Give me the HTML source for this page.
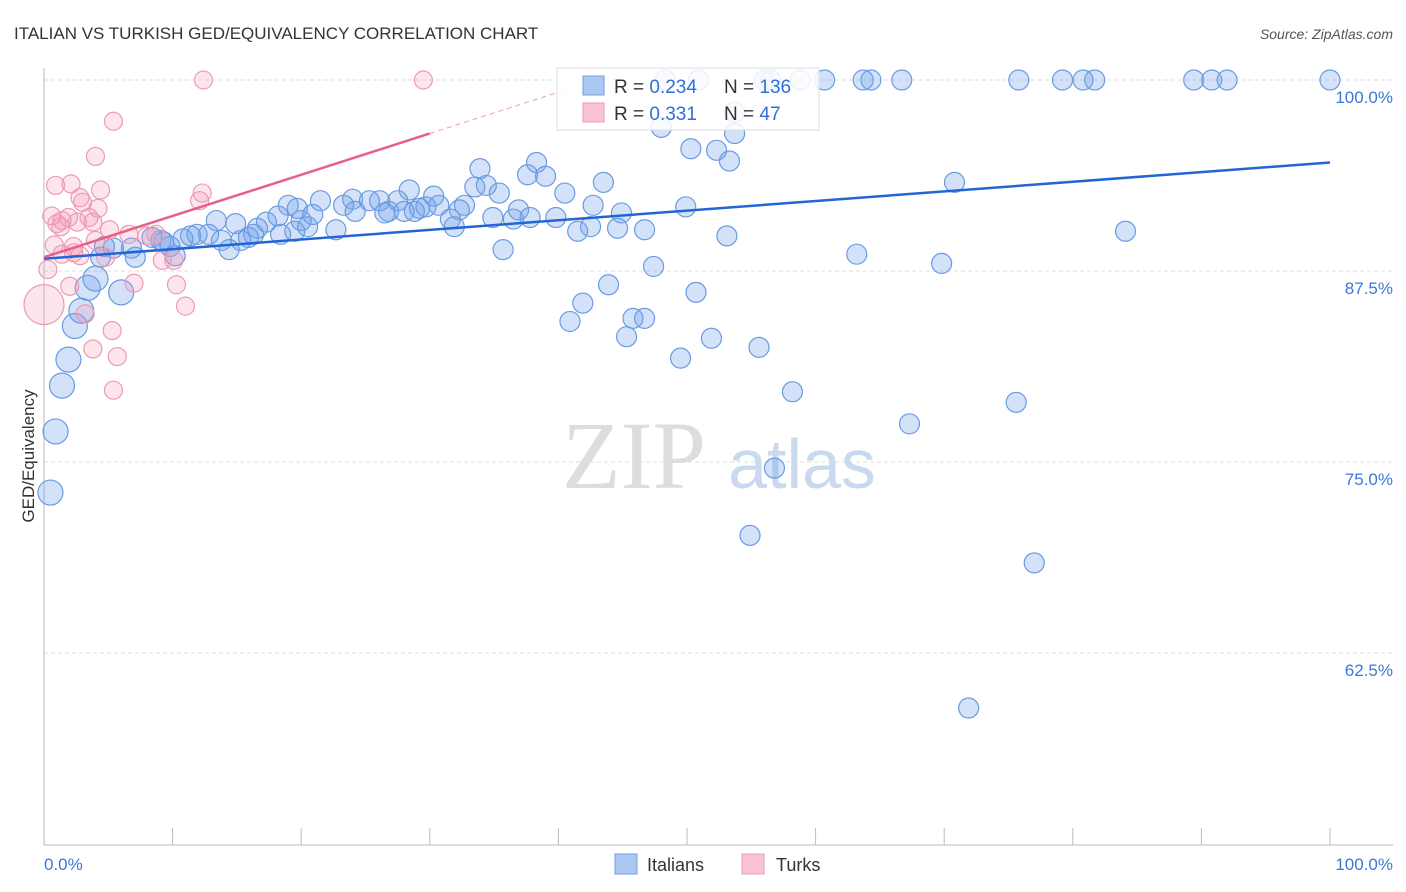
<!DOCTYPE html>
<html><head><meta charset="utf-8"><style>
body{margin:0;background:#fff;font-family:"Liberation Sans",sans-serif;}
svg{display:block}
</style></head><body>
<svg id="chart" width="1406" height="892">
<text x="14" y="39" font-size="17" fill="#333">ITALIAN VS TURKISH GED/EQUIVALENCY CORRELATION CHART</text>
<text x="1393" y="39" font-size="14" fill="#555" text-anchor="end" font-style="italic">Source: ZipAtlas.com</text>
<text x="634" y="488" font-size="96" fill="#ddd" font-family="Liberation Serif,serif" text-anchor="middle">ZIP</text>
<text x="802" y="488" font-size="70" fill="#c9d9f0" text-anchor="middle">atlas</text>
<g id="grid"></g><g id="marks"></g>
<text transform="translate(34,456) rotate(-90)" font-size="17" fill="#333" text-anchor="middle">GED/Equivalency</text>
<g>
<rect x="557" y="68" width="262" height="62" fill="#fff" fill-opacity="0.85" stroke="#ddd"/>
<rect x="583" y="76" width="21" height="19" fill="#aac8f2" stroke="#6f9fe0"/>
<rect x="583" y="103" width="21" height="19" fill="#f8c2d2" stroke="#ee9ab5"/>
<text x="614" y="93" font-size="19" fill="#333">R = <tspan fill="#2f6fd6">0.234</tspan></text>
<text x="724" y="93" font-size="19" fill="#333">N = <tspan fill="#2f6fd6">136</tspan></text>
<text x="614" y="120" font-size="19" fill="#333">R =  <tspan fill="#2f6fd6">0.331</tspan></text>
<text x="724" y="120" font-size="19" fill="#333">N =  <tspan fill="#2f6fd6">47</tspan></text>
</g>
<g><rect x="615" y="854" width="22" height="20" fill="#aac8f2" stroke="#6f9fe0"/><text x="647" y="871" font-size="18" fill="#333">Italians</text></g>
<g><rect x="742" y="854" width="22" height="20" fill="#f8c2d2" stroke="#ee9ab5"/><text x="776" y="871" font-size="18" fill="#333">Turks</text></g>
</svg>
<script>
const yTicks=[100,87.5,75,62.5];
const yTickLabels=["100.0%","87.5%","75.0%","62.5%"];
const xTicks=[0,10,20,30,40,50,60,70,80,90,100];
const itX=[48.3,50.9,56.0,56.5,58.8,60.7,63.7,64.3,66.7,75.8,79.2,80.8,81.7,89.4,90.8,92.0,100,48.0,53.7,53.7,50.3,52.3,53.3,70.8,43.5,49.9,42.7,44.9,46.7,44.6,41.5,42.5,53.1,84.1,63.2,69.8,47.4,50.7,43.9,41.9,40.9,45.8,46.7,45.3,49.5,51.9,55.6,58.2,75.6,67.3,56.8,54.9,77.0,71.9,33.9,38.3,37.6,39.0,33.5,34.4,35.4,40.5,28.4,30.3,30.7,32.7,21.5,24.0,25.3,26.1,27.5,19.0,19.7,23.3,26.8,29.2,29.7,32.3,36.9,34.9,36.5,37.8,39.8,20.9,24.2,26.5,28.0,28.8,31.6,31.9,13.4,14.9,17.3,18.2,20.0,22.7,16.6,16.3,15.9,15.3,11.4,11.9,12.8,10.8,13.8,14.4,18.4,20.5,19.5,35.7,9.1,9.8,8.4,6.8,5.4,4.7,4.4,10.2,7.1,9.3,4.0,3.4,6.0,2.9,2.4,1.9,1.4,0.9,0.5];
const itY=[100,100,100,100,100,100,100,100,100,100,100,100,100,100,100,100,100,96.9,97.9,96.5,95.5,95.4,94.7,93.3,93.3,91.7,91.8,91.3,90.2,90.3,90.1,90.4,89.8,90.1,88.6,88.0,87.8,86.1,86.6,85.4,84.2,84.4,84.4,83.2,81.8,83.1,82.5,79.6,78.9,77.5,74.6,70.2,68.4,58.9,94.2,94.6,93.8,93.7,93.0,93.1,92.6,92.6,92.8,92.4,91.8,91.8,92.1,92.2,92.1,92.1,92.1,91.8,91.6,91.8,91.4,91.6,91.7,91.5,91.5,91.0,90.9,91.0,91.0,91.2,91.4,91.3,91.4,91.4,90.9,90.4,90.8,90.6,90.7,91.1,90.8,90.2,90.3,89.9,89.7,89.5,89.8,89.9,89.9,89.6,89.5,88.9,89.9,90.4,90.1,88.9,89.5,89.1,89.7,89.0,89.0,89.1,88.4,88.5,88.4,89.4,87.0,86.4,86.1,84.9,83.9,81.7,80.0,77.0,73.0];
const tkX=[12.4,29.5,5.4,4.0,0.9,2.1,4.4,2.8,4.2,3.0,12.3,12.1,0.6,1.4,1.9,3.5,2.6,3.8,1.0,5.1,6.6,8.0,8.7,1.3,0.8,2.3,4.0,1.4,2.3,2.8,4.8,9.2,10.1,0.3,2.0,7.0,10.3,11.0,3.2,5.3,3.8,5.7,5.4,0];
const tkY=[100,100,97.3,95.0,93.1,93.2,92.8,92.3,91.6,92.0,92.6,92.1,91.1,90.8,91.0,91.0,90.7,90.7,90.6,90.2,89.9,89.8,89.9,90.4,89.2,89.1,89.5,88.6,88.7,88.5,88.4,88.2,88.2,87.6,86.5,86.7,86.6,85.2,84.7,83.6,82.4,81.9,79.7,85.3];
const itTrend=[88.3,94.6];
const tkTrend=[88.4,96.5];
const NS="http://www.w3.org/2000/svg";
const sx=v=>44+v*12.86, sy=v=>80+(100-v)*15.28;
const grid=document.getElementById('grid'), marks=document.getElementById('marks');
function mk(tag,attrs,parent){const e=document.createElementNS(NS,tag);for(const k in attrs)e.setAttribute(k,attrs[k]);parent.appendChild(e);return e;}
yTicks.forEach((t,i)=>{
 const l=mk('line',{x1:44,x2:1393,y1:sy(t),y2:sy(t),stroke:'#ddd','stroke-dasharray':'4,3'},grid);
 
 
 const tx=mk('text',{x:1393,y:sy(t)+23,'font-size':17,fill:'#3b78d8','text-anchor':'end'},grid);
 tx.textContent=yTickLabels[i];
 
 
});
const ax=mk('line',{x1:44,x2:44,y1:68,y2:845,stroke:'#bbb'},grid);


const bx=mk('line',{x1:44,x2:1393,y1:845,y2:845,stroke:'#bbb'},grid);


xTicks.forEach(t=>{
 const l=mk('line',{x1:sx(t),x2:sx(t),y1:828,y2:845,stroke:'#bbb'},grid);
 
 
});
const xl0=mk('text',{x:44,y:870,'font-size':17,fill:'#3b78d8'},grid);xl0.textContent='0.0%';


const xl1=mk('text',{x:1393,y:870,'font-size':17,fill:'#3b78d8','text-anchor':'end'},grid);xl1.textContent='100.0%';


itX.forEach((x,i)=>{
 const r=(x<7&&itY[i]<88)?12.5:10;
 const c=mk('circle',{cx:sx(x),cy:sy(itY[i]),r:r,fill:'rgba(110,160,235,0.3)',stroke:'#6a9be0','stroke-width':1.2},marks);
 
 
});
tkX.forEach((x,i)=>{
 const r=(i===tkX.length-1)?20:9;
 const c=mk('circle',{cx:sx(x),cy:sy(tkY[i]),r:r,fill:'rgba(245,150,180,0.25)',stroke:'#ee9ab5','stroke-width':1.2},marks);
 
 
});
const bl=mk('line',{x1:sx(0),y1:sy(itTrend[0]),x2:sx(100),y2:sy(itTrend[1]),stroke:'#2266d3','stroke-width':2.5},marks);


const slope=(tkTrend[1]-tkTrend[0])/30;
const pl=mk('line',{x1:sx(0),y1:sy(tkTrend[0]),x2:sx(30),y2:sy(tkTrend[1]),stroke:'#e8608a','stroke-width':2.5},marks);


const xe=(100-tkTrend[0])/slope;
const pd=mk('line',{x1:sx(30),y1:sy(tkTrend[1]),x2:sx(xe),y2:sy(100),stroke:'#e8a0b5','stroke-width':1,'stroke-dasharray':'5,4'},marks);


</script>
</body></html>
